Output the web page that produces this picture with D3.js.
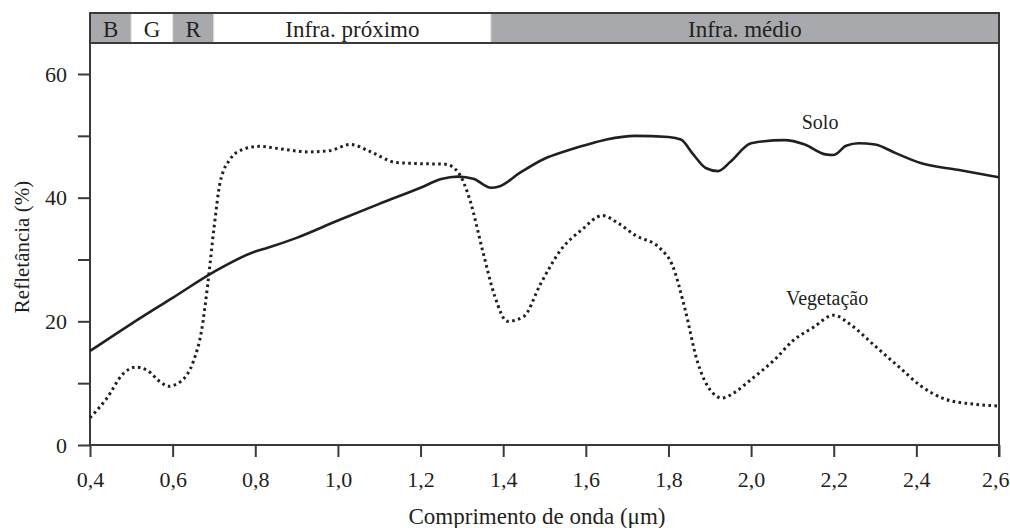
<!DOCTYPE html>
<html>
<head>
<meta charset="utf-8">
<script src="https://cdn.jsdelivr.net/npm/d3@7"></script>
<style>
  body { margin: 0; background: #fff; }
  text { font-family: "Liberation Serif", "DejaVu Serif", serif; fill: #231f20; }
</style>
</head>
<body>
<div id="chart"></div>
<script>
// wavelength (um) and reflectance (%)
var soloWl   = [0.4, 0.5, 0.6, 0.7, 0.8, 0.83, 0.9, 1.0, 1.1, 1.2, 1.25, 1.29, 1.33, 1.35, 1.37, 1.39, 1.44, 1.5, 1.55, 1.6, 1.65, 1.72, 1.8, 1.83, 1.86, 1.89, 1.92, 1.95, 2.0, 2.08, 2.13, 2.18, 2.2, 2.23, 2.26, 2.3, 2.35, 2.41, 2.5, 2.6];
var soloRefl = [15.2, 19.6, 23.8, 28.0, 31.3, 31.9, 33.5, 36.3, 39.0, 41.6, 43.0, 43.4, 43.0, 42.2, 41.6, 41.8, 44.0, 46.3, 47.5, 48.5, 49.4, 50.0, 49.8, 49.4, 47.0, 44.8, 44.3, 45.8, 48.8, 49.3, 48.6, 47.0, 46.9, 48.4, 48.8, 48.6, 47.2, 45.6, 44.5, 43.3];

var vegWl   = [0.4, 0.44, 0.48, 0.51, 0.54, 0.57, 0.59, 0.62, 0.65, 0.67, 0.685, 0.7, 0.715, 0.74, 0.77, 0.81, 0.86, 0.93, 0.98, 1.03, 1.08, 1.14, 1.2, 1.26, 1.29, 1.32, 1.35, 1.38, 1.41, 1.45, 1.49, 1.54, 1.59, 1.64, 1.68, 1.72, 1.78, 1.81, 1.84, 1.87, 1.9, 1.93, 1.96, 2.0, 2.06, 2.1, 2.15, 2.2, 2.24, 2.3, 2.36, 2.41, 2.47, 2.54, 2.6];
var vegRefl = [4.4, 7.5, 11.5, 12.6, 12.0, 10.2, 9.5, 10.3, 13.5, 18.5, 26, 35, 42.5, 46.3, 47.8, 48.3, 47.9, 47.4, 47.6, 48.6, 47.4, 45.7, 45.5, 45.4, 44.2, 39.5, 31.5, 24, 20, 20.8, 26, 31.6, 34.8, 37.1, 35.8, 33.9, 31.8, 29, 22, 13.5, 9, 7.6, 8.5, 10.6, 14, 16.8, 19, 21, 19.5, 16, 12.5, 9.6, 7.4, 6.6, 6.3];

// spectral bands on the top strip
var bandNames = ["B", "G", "R", "Infra. próximo", "Infra. médio"];
var bandStart = [0.4, 0.5, 0.6, 0.7, 1.37];
var bandEnd   = [0.5, 0.6, 0.7, 1.37, 2.6];
var bandGrey  = [true, false, true, false, true];

var xTicks = [0.4, 0.6, 0.8, 1.0, 1.2, 1.4, 1.6, 1.8, 2.0, 2.2, 2.4, 2.6];
var yTicks = [0, 10, 20, 30, 40, 50, 60];
var yLabels = [0, 20, 40, 60];

// curve labels: name, wavelength, reflectance of the baseline
var curveLabels = [["Solo", 2.167, 51.1], ["Vegetação", 2.184, 22.6]];

var svgWidth = 1010;
var svgHeight = 528;
var plotLeft = 90, plotRight = 999, plotTop = 13, bandBottom = 43, plotBottom = 445;
var ink = "#231f20";
var axisInk = "#3a3a3a";

var svg = d3.select("#chart").append("svg")
    .attr("width", svgWidth)
    .attr("height", svgHeight);

var x = d3.scaleLinear().domain([0.4, 2.6]).range([plotLeft, plotRight]);
var y = d3.scaleLinear().domain([0, 60]).range([plotBottom, 74]);

// top band strip
var bands = bandNames.map(function(n, i) {
    return {name: n, x0: bandStart[i], x1: bandEnd[i], grey: bandGrey[i]};
});
svg.selectAll("rect.band")
    .data(bands)
    .enter()
    .append("rect")
    .attr("class", "band")
    .attr("x", d => x(d.x0))
    .attr("y", plotTop)
    .attr("width", d => x(d.x1) - x(d.x0))
    .attr("height", bandBottom - plotTop)
    .attr("fill", d => d.grey ? "#a7a9ac" : "#fff")
    .attr("stroke", "#e6e7e8")
    .attr("stroke-width", 1);
svg.selectAll("text.band")
    .data(bands)
    .enter()
    .append("text")
    .attr("class", "band")
    .attr("x", d => (x(d.x0) + x(d.x1)) / 2)
    .attr("y", 37)
    .attr("text-anchor", "middle")
    .style("font-size", "23px")
    .text(d => d.name);

// axes
var fmt = d3.format(".1f");
var xAxis = svg.append("g")
    .attr("transform", `translate(0, ${plotBottom})`)
    .call(d3.axisBottom(x).tickValues(xTicks).tickSize(12).tickPadding(14)
        .tickFormat(d => fmt(d).replace(".", ",")));
var yAxis = svg.append("g")
    .attr("transform", `translate(${plotLeft}, 0)`)
    .call(d3.axisLeft(y).tickValues(yTicks).tickSize(12).tickPadding(11)
        .tickFormat(d => yLabels.indexOf(d) >= 0 ? d : ""));
[xAxis, yAxis].forEach(function(g) {
    g.select(".domain").remove();
    g.selectAll("line").attr("stroke", axisInk).attr("stroke-width", 2);
    g.selectAll("text")
        .style("font-family", "Liberation Serif, serif")
        .style("font-size", "22px")
        .attr("fill", ink);
});
// last x label sits against the right edge
xAxis.selectAll(".tick:last-of-type text").attr("text-anchor", "end").attr("x", 10);

// frame
var frame = svg.append("g").attr("stroke", axisInk).attr("stroke-width", 2).attr("fill", "none");
frame.append("path").attr("d", `M${plotLeft},${plotBottom}V${plotTop}H${plotRight}V${plotBottom + 12}`);
frame.append("path").attr("d", `M${plotLeft},${plotBottom}H${plotRight}`);
frame.append("path").attr("d", `M${plotLeft},${bandBottom}H${plotRight}`).attr("stroke-width", 1.8);

// curves
var line = d3.line()
    .x(d => x(d[0]))
    .y(d => y(d[1]))
    .curve(d3.curveMonotoneX);

svg.append("path")
    .datum(soloWl.map((w, i) => [w, soloRefl[i]]))
    .attr("d", line)
    .attr("fill", "none")
    .attr("stroke", ink)
    .attr("stroke-width", 2.6);

svg.append("path")
    .datum(vegWl.map((w, i) => [w, vegRefl[i]]))
    .attr("d", line)
    .attr("fill", "none")
    .attr("stroke", ink)
    .attr("stroke-width", 3)
    .attr("stroke-dasharray", "2.6,3.4");

svg.selectAll("text.curve")
    .data(curveLabels)
    .enter()
    .append("text")
    .attr("class", "curve")
    .attr("x", d => x(d[1]))
    .attr("y", d => y(d[2]))
    .attr("text-anchor", "middle")
    .style("font-size", "20px")
    .text(d => d[0]);

// axis titles
svg.append("text")
    .attr("x", 537)
    .attr("y", 524)
    .attr("text-anchor", "middle")
    .style("font-size", "23px")
    .text("Comprimento de onda (μm)");
svg.append("text")
    .attr("transform", "translate(29, 247) rotate(-90)")
    .attr("text-anchor", "middle")
    .style("font-size", "21px")
    .text("Refletância (%)");
</script>
</body>
</html>
